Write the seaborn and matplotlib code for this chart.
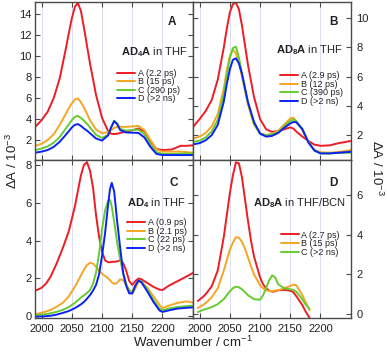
import numpy as np
import pandas as pd
import matplotlib
matplotlib.use("Agg")
import matplotlib.pyplot as plt
import seaborn as sns

# ---------------- data ----------------
# Panel A: AD4A in THF
wn_A = [1990, 2000, 2010, 2020, 2030, 2040, 2045, 2050, 2055, 2060, 2065, 2070, 2075, 2080, 2090, 2100,
        2110, 2115, 2120, 2125, 2130, 2140, 2150, 2160, 2170, 2180, 2190, 2200, 2215, 2230, 2240, 2250]
pA_A = [3.3, 3.9, 4.7, 6.0, 7.9, 10.7, 12.2, 13.6, 14.7, 15.05, 14.3, 12.7, 11.0, 9.3, 6.3, 4.1,
        2.85, 2.6, 2.57, 2.6, 2.68, 2.8, 2.93, 3.1, 2.85, 1.9, 1.15, 1.05, 1.1, 1.45, 1.45, 1.5]
pA_B = [1.45, 1.65, 2.0, 2.55, 3.45, 4.5, 5.05, 5.5, 5.85, 5.97, 5.6, 5.1, 4.5, 3.9, 3.0, 2.65,
        2.75, 2.95, 3.15, 3.25, 3.27, 3.25, 3.3, 3.35, 2.95, 2.0, 1.1, 0.9, 0.9, 0.9, 0.85, 0.8]
pA_C = [1.05, 1.2, 1.4, 1.75, 2.3, 3.1, 3.5, 3.9, 4.2, 4.3, 4.1, 3.85, 3.55, 3.2, 2.5, 2.2,
        2.5, 3.2, 3.85, 3.6, 3.05, 2.9, 2.95, 3.0, 2.55, 1.6, 0.85, 0.68, 0.67, 0.7, 0.72, 0.73]
pA_D = [0.8, 0.9, 1.05, 1.35, 1.84, 2.5, 2.85, 3.2, 3.45, 3.52, 3.35, 3.1, 2.9, 2.65, 2.15, 1.95,
        2.45, 3.2, 3.8, 3.5, 2.95, 2.72, 2.7, 2.68, 2.25, 1.35, 0.68, 0.57, 0.57, 0.57, 0.57, 0.57]
labels_A = ["A (2.2 ps)", "B (15 ps)", "C (290 ps)", "D (>2 ns)"]

# Panel B: AD8A in THF
wn_B = [1990, 2000, 2010, 2020, 2030, 2040, 2045, 2050, 2055, 2060, 2065, 2070, 2080, 2090, 2100,
        2110, 2120, 2130, 2140, 2150, 2155, 2160, 2170, 2180, 2190, 2200, 2215, 2230, 2250]
pB_A = [2.6, 3.1, 3.65, 4.4, 5.8, 8.0, 9.3, 10.4, 10.95, 11.05, 10.6, 9.5, 6.8, 4.6, 3.1,
        2.4, 2.22, 2.28, 2.4, 2.53, 2.45, 2.25, 1.9, 1.6, 1.35, 1.27, 1.3, 1.45, 1.6]
pB_B = [1.77, 1.9, 2.15, 2.6, 3.45, 5.2, 6.45, 7.4, 7.85, 7.6, 7.0, 6.0, 4.1, 2.7, 2.15,
        2.0, 2.1, 2.3, 2.72, 3.15, 3.2, 2.95, 2.35, 1.5, 1.0, 0.83, 0.8, 0.85, 0.98]
pB_C = [1.55, 1.62, 1.85, 2.25, 3.05, 4.8, 6.1, 7.3, 7.95, 8.05, 7.3, 6.2, 4.2, 2.75, 2.1,
        2.0, 2.05, 2.2, 2.6, 2.98, 3.07, 2.95, 2.45, 1.55, 0.95, 0.75, 0.75, 0.78, 0.8]
pB_D = [1.38, 1.45, 1.65, 2.0, 2.7, 4.3, 5.5, 6.5, 7.15, 7.25, 6.9, 6.2, 4.25, 2.9, 2.1,
        1.9, 1.95, 2.15, 2.5, 2.8, 2.9, 2.88, 2.4, 1.5, 0.95, 0.75, 0.75, 0.8, 0.86]
labels_B = ["A (2.9 ps)", "B (12 ps)", "C (390 ps)", "D (>2 ns)"]

# Panel C: AD4 in THF
wn_C = [1990, 2000, 2008, 2015, 2025, 2035, 2045, 2055, 2065, 2070, 2075, 2080, 2085, 2090, 2095,
        2100, 2105, 2110, 2113, 2116, 2120, 2125, 2130, 2135, 2140, 2145, 2150, 2155, 2160, 2165,
        2175, 2185, 2195, 2200, 2210, 2225, 2240, 2250]
pC_A = [1.35, 1.5, 1.75, 2.1, 2.8, 3.6, 4.5, 5.8, 7.45, 8.0, 8.15, 7.7, 6.8, 5.35, 4.2,
        3.4, 2.95, 2.85, 2.85, 2.87, 2.87, 2.9, 2.95, 2.8, 2.4, 1.85, 1.65, 1.85, 1.99, 1.95,
        1.75, 1.55, 1.4, 1.38, 1.6, 1.85, 2.1, 2.28]
pC_B = [0.1, 0.18, 0.25, 0.33, 0.5, 0.7, 1.05, 1.55, 2.15, 2.45, 2.7, 2.82, 2.78, 2.62, 2.4,
        2.25, 2.12, 2.0, 1.9, 1.8, 1.7, 1.75, 1.95, 1.9, 1.64, 1.4, 1.2, 1.45, 1.8, 1.8,
        1.5, 1.05, 0.6, 0.42, 0.55, 0.7, 0.78, 0.72]
pC_C = [0.05, 0.08, 0.11, 0.15, 0.23, 0.33, 0.48, 0.7, 0.98, 1.1, 1.22, 1.38, 1.7, 2.3, 3.3,
        4.6, 5.6, 6.1, 6.15, 5.8, 5.0, 3.9, 3.0, 2.26, 1.7, 1.3, 1.3, 1.65, 1.88, 1.85,
        1.4, 0.85, 0.4, 0.3, 0.4, 0.48, 0.53, 0.55]
pC_D = [-0.03, -0.02, 0.0, 0.02, 0.08, 0.17, 0.27, 0.42, 0.62, 0.75, 0.92, 1.11, 1.35, 1.65, 2.2,
        3.2, 4.4, 5.9, 6.7, 7.05, 6.6, 5.0, 3.6, 2.26, 1.6, 1.2, 1.2, 1.6, 1.88, 1.8,
        1.3, 0.75, 0.3, 0.22, 0.3, 0.4, 0.44, 0.46]
labels_C = ["A (0.9 ps)", "B (2.1 ps)", "C (22 ps)", "D (>2 ns)"]

# Panel D: AD8A in THF/BCN
wn_D = [1997, 2005, 2010, 2020, 2030, 2040, 2045, 2050, 2055, 2060, 2065, 2070, 2075, 2080, 2085, 2090,
        2100, 2105, 2110, 2115, 2120, 2125, 2130, 2140, 2150, 2155, 2160, 2170, 2175, 2182]
pD_A = [0.66, 0.85, 1.0, 1.4, 2.2, 3.9, 5.0, 6.1, 7.0, 7.65, 7.6, 6.9, 5.8, 4.7, 3.7, 2.9,
        1.85, 1.5, 1.3, 1.18, 1.13, 1.15, 1.2, 1.22, 1.18, 1.1, 0.9, 0.45, 0.15, -0.2]
pD_B = [0.3, 0.45, 0.55, 0.85, 1.3, 2.2, 2.73, 3.25, 3.6, 3.88, 3.85, 3.65, 3.3, 2.85, 2.4, 2.0,
        1.45, 1.3, 1.2, 1.16, 1.16, 1.18, 1.2, 1.3, 1.42, 1.48, 1.45, 0.95, 0.62, 0.2]
pD_C = [0.1, 0.2, 0.25, 0.35, 0.5, 0.75, 0.95, 1.15, 1.3, 1.38, 1.35, 1.25, 1.1, 0.95, 0.85, 0.75,
        0.72, 0.95, 1.3, 1.7, 1.95, 1.85, 1.5, 1.3, 1.25, 1.22, 1.12, 0.75, 0.5, 0.25]
labels_D = ["A (2.7 ps)", "B (15 ps)", "C (>2 ns)"]

xticks = [2000, 2050, 2100, 2150, 2200]
yticks_A = [2, 4, 6, 8, 10, 12, 14]
yticks_B = [2, 4, 6, 8, 10]
yticks_C = [0, 2, 4, 6, 8]
yticks_D = [0, 2, 4, 6]

colors = ["#ee1c24", "#f5a623", "#66cc2e", "#0a22f5"]

# ---------------- style ----------------
sns.set_theme(style="ticks")
plt.rcParams["font.family"] = ["Liberation Sans", "DejaVu Sans"]
plt.rcParams["mathtext.fontset"] = "custom"
plt.rcParams["mathtext.rm"] = "Liberation Sans"
plt.rcParams["mathtext.it"] = "Liberation Sans:italic"
plt.rcParams["mathtext.bf"] = "Liberation Sans:bold"
plt.rcParams["mathtext.sf"] = "Liberation Sans"
spine_col = "#4a4a4a"
text_col = "#222222"

fig = plt.figure(figsize=(3.87, 3.53), dpi=100)
W, H = 387, 353
def ax_at(x0, y0, x1, y1):
    return fig.add_axes([x0 / W, 1 - y1 / H, (x1 - x0) / W, (y1 - y0) / H])

axA = ax_at(35, 2, 193, 160)
axB = ax_at(193, 2, 351, 160)
axC = ax_at(35, 160, 193, 318)
axD = ax_at(193, 160, 351, 318)

def long_df(wn, series, labels):
    frames = []
    for s, lab in zip(series, labels):
        frames.append(pd.DataFrame({"wavenumber": wn, "dA": s, "component": lab}))
    return pd.concat(frames, ignore_index=True)

panels = [
    (axA, wn_A, [pA_A, pA_B, pA_C, pA_D], labels_A, (0.1, 15.15), yticks_A, "A",
     r"$\mathbf{AD_4A}$ in THF", (0.865, 0.875), (0.968, 0.685), (0.519, 0.578), "left", False),
    (axB, wn_B, [pB_A, pB_B, pB_C, pB_D], labels_B, (0.3, 11.1), yticks_B, "B",
     r"$\mathbf{AD_8A}$ in THF", (0.89, 0.875), (0.945, 0.695), (0.551, 0.562), "right", False),
    (axC, wn_C, [pC_A, pC_B, pC_C, pC_D], labels_C, (-0.1, 8.26), yticks_C, "C",
     r"$\mathbf{AD_4}$ in THF", (0.88, 0.852), (0.952, 0.726), (0.582, 0.632), "left", True),
    (axD, wn_D, [pD_A, pD_B, pD_C], labels_D, (-0.2, 7.77), yticks_D, "D",
     r"$\mathbf{AD_8A}$ in THF/BCN", (0.89, 0.852), (0.968, 0.726), (0.555, 0.553), "right", True),
]

for (ax, wn, series, labels, ylim, yticks, letter, subtitle, lpos, spos, legpos,
     yside, showx) in panels:
    df = long_df(wn, series, labels)
    sns.lineplot(data=df, x="wavenumber", y="dA", hue="component",
                 palette=colors[:len(labels)], hue_order=labels, ax=ax,
                 linewidth=1.4, legend=False, estimator=None)
    ax.set_xlim(1989, 2250.5)
    ax.set_ylim(*ylim)
    ax.set_xticks(xticks)
    ax.set_yticks(yticks)
    ax.set_xlabel("")
    ax.set_ylabel("")
    ax.grid(axis="x", color="#dcdcf4", linewidth=0.7)
    ax.set_axisbelow(True)
    for sp in ax.spines.values():
        sp.set_visible(True)
        sp.set_color(spine_col)
        sp.set_linewidth(1.0)
    ax.tick_params(direction="in", length=3.5, width=0.8, color=spine_col,
                   labelsize=8, labelcolor=text_col,
                   top=True, bottom=True, left=True, right=True,
                   labelbottom=showx, labeltop=False,
                   labelleft=(yside == "left"), labelright=(yside == "right"))
    ax.tick_params(axis="y", pad=2.5 if yside == "left" else 4)
    ax.tick_params(axis="x", pad=4)
    ax.text(lpos[0], lpos[1], letter, transform=ax.transAxes, ha="center", va="center",
            fontsize=8.5, fontweight="bold", color=text_col)
    ax.text(spos[0], spos[1], subtitle, transform=ax.transAxes, ha="right", va="center",
            fontsize=8, color=text_col)
    leg = ax.legend(ax.get_lines()[:len(labels)], labels, loc="upper left",
                    bbox_to_anchor=legpos, frameon=False, fontsize=6.5,
                    handlelength=2.0, handletextpad=0.3, labelspacing=-0.05,
                    borderpad=0, borderaxespad=0)
    for t in leg.get_texts():
        t.set_color(text_col)

fig.text(12 / W, 1 - 161 / H, r"$\Delta$A / 10$^{-3}$", rotation=90, ha="center", va="center",
         fontsize=9.5, color=text_col)
fig.text(377 / W, 1 - 168 / H, r"$\Delta$A / 10$^{-3}$", rotation=-90, ha="center", va="center",
         fontsize=9.5, color=text_col)
fig.text(193 / W, 1 - 342 / H, r"Wavenumber / cm$^{-1}$", ha="center", va="center",
         fontsize=9.5, color=text_col)

fig.savefig("out.png", dpi=100)
